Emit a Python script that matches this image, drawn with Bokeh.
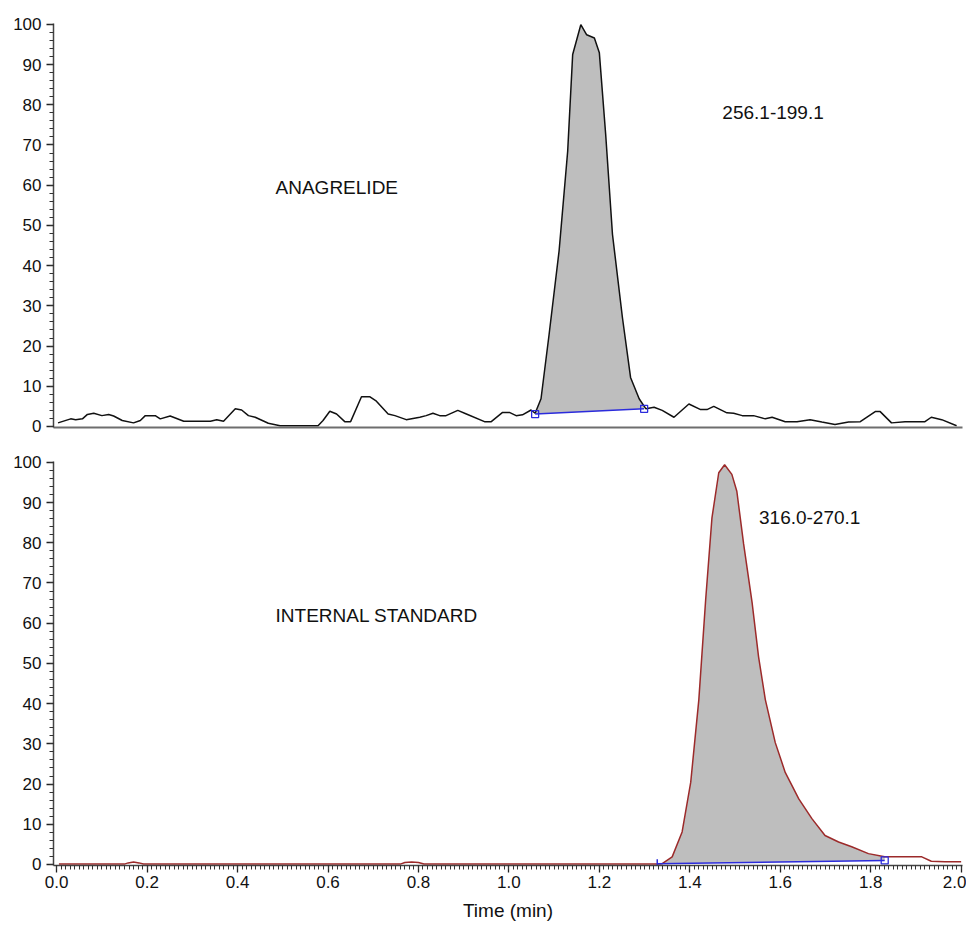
import numpy as np
from bokeh.plotting import figure
from bokeh.layouts import column
from bokeh.models import Range1d, Label, FixedTicker, CustomJSTickFormatter
from bokeh.embed import file_html
from bokeh.resources import INLINE

# ---------------- data ----------------
# Top trace: ANAGRELIDE, transition 256.1-199.1
top_t = [0.003, 0.031, 0.042, 0.057, 0.068, 0.082, 0.100, 0.115, 0.126, 0.145,
         0.170, 0.185, 0.196, 0.218, 0.229, 0.251, 0.281, 0.340, 0.354, 0.369,
         0.395, 0.409, 0.424, 0.439, 0.468, 0.494, 0.578, 0.589, 0.604, 0.619,
         0.637, 0.650, 0.674, 0.692, 0.707, 0.733, 0.748, 0.773, 0.803, 0.817,
         0.832, 0.847, 0.861, 0.887, 0.906, 0.946, 0.961, 0.986, 1.001, 1.016,
         1.030, 1.049, 1.058, 1.071, 1.089, 1.111, 1.130, 1.141, 1.159, 1.172,
         1.189, 1.200, 1.214, 1.229, 1.251, 1.269, 1.288, 1.303, 1.321, 1.339,
         1.365, 1.398, 1.424, 1.438, 1.453, 1.482, 1.497, 1.516, 1.541, 1.567,
         1.582, 1.611, 1.637, 1.666, 1.692, 1.721, 1.751, 1.777, 1.810, 1.821,
         1.846, 1.876, 1.920, 1.934, 1.957, 1.990]
top_v = [0.9, 1.9, 1.7, 1.9, 3.0, 3.3, 2.7, 3.0, 2.6, 1.5,
         0.9, 1.5, 2.7, 2.7, 1.9, 2.6, 1.3, 1.3, 1.7, 1.3,
         4.4, 4.1, 2.7, 2.3, 0.8, 0.2, 0.2, 1.5, 3.8, 3.1,
         1.2, 1.2, 7.4, 7.4, 6.3, 3.1, 2.7, 1.7, 2.3, 2.7,
         3.3, 2.7, 2.7, 4.0, 3.1, 1.2, 1.2, 3.5, 3.5, 2.7,
         2.9, 4.1, 3.3, 6.9, 23.0, 43.7, 68.5, 92.5, 99.9, 97.4,
         96.6, 92.9, 72.6, 47.8, 27.1, 12.2, 6.9, 4.4, 4.8, 4.0,
         2.3, 5.6, 4.2, 4.2, 5.0, 3.4, 3.3, 2.7, 2.7, 1.9,
         2.3, 1.2, 1.2, 1.7, 1.1, 0.5, 1.1, 1.2, 3.7, 3.7,
         0.9, 1.2, 1.2, 2.3, 1.7, 0.2]
top_int_t = [1.058, 1.299]      # integration start / end
top_int_v = [3.1, 4.4]          # baseline levels

# Bottom trace: INTERNAL STANDARD, transition 316.0-270.1
bot_t = [0.005, 0.150, 0.158, 0.170, 0.182, 0.192, 0.760, 0.770, 0.785, 0.800,
         0.812, 1.330, 1.339, 1.361, 1.383, 1.402, 1.420, 1.435, 1.449, 1.464,
         1.477, 1.493, 1.504, 1.519, 1.538, 1.552, 1.567, 1.589, 1.611, 1.641,
         1.670, 1.699, 1.729, 1.758, 1.795, 1.831, 1.868, 1.913, 1.934, 1.964,
         2.000]
bot_v = [0.1, 0.1, 0.4, 0.6, 0.4, 0.1, 0.1, 0.5, 0.6, 0.5,
         0.1, 0.1, 0.2, 1.9, 8.1, 20.4, 41.0, 65.7, 86.2, 97.4,
         99.4, 97.0, 92.8, 79.7, 64.9, 51.7, 41.0, 30.3, 22.9, 16.3,
         11.4, 7.2, 5.6, 4.4, 2.7, 1.9, 1.9, 1.9, 0.8, 0.7,
         0.7]
bot_int_t = [1.328, 1.831]
bot_int_v = [0.2, 1.0]

y_major = list(range(0, 101, 10))
y_minor = list(range(0, 101, 2))
x_major = [0.0, 0.2, 0.4, 0.6, 0.8, 1.0, 1.2, 1.4, 1.6, 1.8, 2.0]
x_minor = [i / 100 for i in range(0, 201)]

FONT = "Liberation Sans"
FILL = "#bebebe"
BLUE = "#2b2bdc"
RED = "#9c2a2a"
W = 966


def base_fig(height, b_top, b_bottom):
    p = figure(width=W, height=height, output_backend="svg", toolbar_location=None,
               x_range=Range1d(-0.007, 2.003), y_range=Range1d(-0.25, 100.2),
               min_border_left=53, min_border_right=4,
               min_border_top=b_top, min_border_bottom=b_bottom)
    p.outline_line_color = None
    p.grid.visible = False
    p.background_fill_color = "white"
    p.border_fill_color = "white"
    ya = p.yaxis[0]
    ya.ticker = FixedTicker(ticks=y_major, minor_ticks=y_minor)
    ya.axis_line_color = "#444444"
    ya.axis_line_width = 1.5
    ya.major_tick_line_color = "#222222"
    ya.minor_tick_line_color = "#333333"
    ya.major_tick_line_width = 1.3
    ya.minor_tick_line_width = 1.2
    ya.major_tick_in = 0
    ya.minor_tick_in = 0
    ya.major_tick_out = 7
    ya.minor_tick_out = 4
    ya.major_label_standoff = 5
    ya.major_label_text_font = FONT
    ya.major_label_text_font_size = "17px"
    ya.major_label_text_color = "#111111"
    return p


def trace(p, t, v, color, it, iv, start_dash=False):
    t = np.asarray(t, float)
    v = np.asarray(v, float)
    # area between trace and integration baseline
    mask = (t > it[0]) & (t < it[1])
    ft = np.concatenate([[it[0]], t[mask], [it[1]]])
    fv = np.interp(ft, t, v)
    fb = np.interp(ft, it, iv)
    fv = np.maximum(fv, fb)
    p.varea(x=ft, y1=fb, y2=fv, fill_color=FILL)
    p.line(t, v, line_color=color, line_width=1.5)
    p.line(it, iv, line_color=BLUE, line_width=1.5)
    if start_dash:
        p.scatter([it[0]], [iv[0]], marker="dash", angle=np.pi / 2, size=9,
                  line_color=BLUE, line_width=1.5)
        p.scatter([it[1]], [iv[1]], marker="square", size=7, fill_color=None,
                  line_color=BLUE, line_width=1.3)
    else:
        p.scatter(it, iv, marker="square", size=7, fill_color=None,
                  line_color=BLUE, line_width=1.3)


def label(p, x, y, text):
    p.add_layout(Label(x=x, y=y, text=text, text_font=FONT, text_font_size="19px",
                       text_baseline="middle", text_color="#111111"))


# ---------------- top panel ----------------
p1 = base_fig(440, 23, 13)
xa = p1.xaxis[0]
xa.axis_line_color = "#6e6e6e"
xa.axis_line_width = 2
xa.major_tick_out = 0
xa.minor_tick_out = 0
xa.major_tick_in = 0
xa.minor_tick_in = 0
xa.major_label_text_font_size = "1px"
xa.major_label_text_alpha = 0
xa.major_label_standoff = 0
trace(p1, top_t, top_v, "#111111", top_int_t, top_int_v)
label(p1, 0.484, 59.3, "ANAGRELIDE")
label(p1, 1.472, 78.0, "256.1-199.1")

# ---------------- bottom panel ----------------
p2 = base_fig(484, 21, 59)
xb = p2.xaxis[0]
xb.ticker = FixedTicker(ticks=x_major, minor_ticks=x_minor)
xb.formatter = CustomJSTickFormatter(code="return tick.toFixed(1);")
xb.axis_line_color = "#444444"
xb.axis_line_width = 1.5
xb.major_tick_line_color = "#222222"
xb.minor_tick_line_color = "#333333"
xb.major_tick_line_width = 1.3
xb.minor_tick_line_width = 1.0
xb.major_tick_in = 0
xb.minor_tick_in = 0
xb.major_tick_out = 7
xb.minor_tick_out = 4
xb.major_label_standoff = 3
xb.major_label_text_font = FONT
xb.major_label_text_font_size = "17px"
xb.major_label_text_color = "#111111"
xb.axis_label = "Time (min)"
xb.axis_label_text_font = FONT
xb.axis_label_text_font_size = "19px"
xb.axis_label_text_font_style = "normal"
xb.axis_label_text_color = "#111111"
xb.axis_label_standoff = 9
trace(p2, bot_t, bot_v, RED, bot_int_t, bot_int_v, start_dash=True)
label(p2, 0.484, 62.0, "INTERNAL STANDARD")
label(p2, 1.553, 86.2, "316.0-270.1")

layout = column(p1, p2, spacing=0)
open("out.html", "w").write(file_html(layout, INLINE))
